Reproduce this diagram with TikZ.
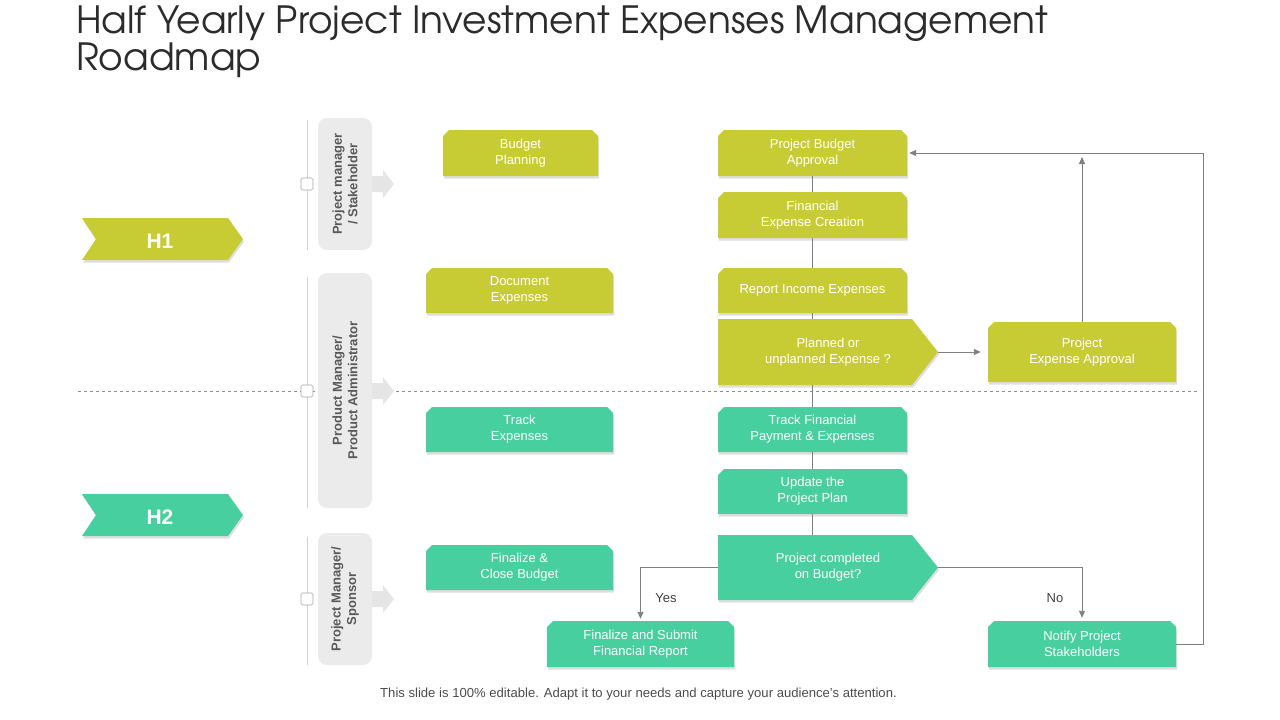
\documentclass[tikz,border=0pt]{standalone}
\usepackage{fontspec}
\setmainfont{Liberation Sans}
\newfontfamily\titlefont{TeX Gyre Adventor}
\usetikzlibrary{arrows.meta,shadows,calc}
\definecolor{hyg}{HTML}{C8CC34}
\definecolor{hteal}{HTML}{48CFA0}
\definecolor{lanegray}{HTML}{EBEBEB}
\definecolor{lanetext}{HTML}{595959}
\definecolor{linegray}{HTML}{808080}
\definecolor{titlegray}{HTML}{2B2B2B}
\tikzset{
  boxtext/.style={inner sep=0pt, align=center, text=white, font=\fontsize{13}{16}\selectfont},
  boxshade/.style={drop shadow={shadow xshift=1pt, shadow yshift=-2.5pt, opacity=0.13, fill=black}},
  conn/.style={draw=linegray, line width=0.9pt},
  arr/.style={conn, -{Triangle[length=7pt,width=6pt]}},
  lane/.style={fill=lanegray, rounded corners=9pt, rotate=90, inner sep=0pt, minimum height=54pt, align=center, text=lanetext, font=\bfseries\fontsize{13}{15.5}\selectfont},
  lanearrow/.style={fill=black!10},
  laneline/.style={draw=black!18, line width=0.8pt},
  sq/.style={draw=black!35, fill=white, minimum size=12pt, rounded corners=1.5pt, inner sep=0pt, line width=0.6pt},
  hlabel/.style={text=white, font=\bfseries\fontsize{21}{24}\selectfont, inner sep=0pt},
  yn/.style={text=black!75, font=\fontsize{13}{15}\selectfont, inner sep=0pt},
}
\newcommand\chbox[7]{%
  \fill[#6, boxshade] (#2+6,#3) -- (#4-6,#3) -- (#4,#3+6) -- (#4,#5) -- (#2,#5) -- (#2,#3+6) -- cycle;
  \node[boxtext, minimum width={(#4-#2)*1pt}, minimum height={(#5-#3)*1pt}] (#1) at ({(#2+#4)/2},{(#3+#5)/2}) {#7};
}
\newcommand\pentbox[8]{%
  \fill[#7, boxshade] (#2,#3) -- (#4,#3) -- (#5,{(#3+#6)/2}) -- (#4,#6) -- (#2,#6) -- cycle;
  \node[boxtext, minimum width={(#5-#2)*1pt}, minimum height={(#6-#3)*1pt}] (#1) at ({(#2+#5)/2},{(#3+#6)/2}) {#8};
}
\begin{document}
\begin{tikzpicture}[x=1pt,y=-1pt]
\useasboundingbox (0,0) rectangle (1280,720);
% title
\node[anchor=base west, inner sep=0pt, text=titlegray, font=\titlefont\fontsize{37.5}{40}\selectfont] (title1) at (76,33) {Half Yearly Project Investment Expenses Management};
\node[anchor=base west, inner sep=0pt, text=titlegray, font=\titlefont\fontsize{37.5}{40}\selectfont] (title2) at (76,70.5) {Roadmap};
% footer
\node[text=black!70, font=\fontsize{13.1}{15}\selectfont, inner sep=0pt] (foot) at (638.5,694) {This slide is 100\% editable. Adapt it to your needs and capture your audience's attention.};

% H chevrons
\fill[hyg, boxshade] (82,218) -- (228,218) -- (243,239) -- (228,260) -- (82,260) -- (96,239) -- cycle;
\node[hlabel] (h1) at (160,241) {H1};
\fill[hteal, boxshade] (82,494) -- (228,494) -- (243,515) -- (228,536) -- (82,536) -- (96,515) -- cycle;
\node[hlabel] (h2) at (160,517) {H2};

% lanes
\draw[laneline] (307,120) -- (307,250);
\draw[laneline] (307,277) -- (307,508);
\draw[laneline] (307,537) -- (307,665);
\draw[draw=black!45, dashed, line width=0.8pt] (78,391) -- (1200,391);
\node[sq] (sq1) at (307,184) {};
\node[sq] (sq2) at (307,391) {};
\node[sq] (sq3) at (307,599) {};
\node[lane, minimum width=132pt] (lane1) at (345,184) {Project manager\\/ Stakeholder};
\node[lane, minimum width=235pt] (lane2) at (345,390.5) {Product Manager/\\Product Administrator};
\node[lane, minimum width=132pt] (lane3) at (345,599) {Project Manager/\\Sponsor};
\foreach \yy in {184,391,599}{
  \fill[lanearrow] (372,\yy-8) -- (383,\yy-8) -- (383,\yy-14) -- (394,\yy) -- (383,\yy+14) -- (383,\yy+8) -- (372,\yy+8) -- cycle;
}

% boxes
\chbox{bp}{443}{130}{598}{176}{hyg}{Budget\\Planning}
\chbox{pba}{718}{130}{907}{176}{hyg}{Project Budget\\Approval}
\chbox{fec}{718}{192}{907}{238}{hyg}{Financial\\Expense Creation}
\chbox{de}{426}{268}{613}{313}{hyg}{Document\\Expenses}
\chbox{rie}{718}{268}{907}{313}{hyg}{Report Income Expenses}
\pentbox{pl}{718}{319}{912}{938}{385}{hyg}{Planned or\\unplanned Expense ?}
\chbox{pea}{988}{322}{1176}{382}{hyg}{Project\\Expense Approval}
\chbox{te}{426}{407}{613}{452}{hteal}{Track\\Expenses}
\chbox{tfp}{718}{407}{907}{452}{hteal}{Track Financial\\Payment \& Expenses}
\chbox{upp}{718}{469}{907}{514}{hteal}{Update the\\Project Plan}
\chbox{fcb}{426}{545}{613}{590}{hteal}{Finalize \&\\Close Budget}
\pentbox{pc}{718}{535}{912}{938}{600}{hteal}{Project completed\\on Budget?}
\chbox{fsr}{547}{621}{734}{667}{hteal}{Finalize and Submit\\Financial Report}
\chbox{nps}{988}{621}{1176}{667}{hteal}{Notify Project\\Stakeholders}

% connectors
\draw[conn] (pba.south) -- (fec.north);
\draw[conn] (fec.south) -- (rie.north);
\draw[conn] (rie.south) -- (rie.south |- pl.north);
\draw[conn] (tfp.north |- pl.south) -- (tfp.north);
\draw[conn] (tfp.south) -- (upp.north);
\draw[conn] (upp.south) -- (upp.south |- pc.north);
\draw[arr, shorten >=7pt] (pl.east) -- (pea.west);
\coordinate (peatop) at (1082,157);
\draw[arr] (pea.north) -- (peatop);
\coordinate (rc) at (1203,153);
\draw[arr, shorten >=2pt] (nps.east) -| (rc) -- (pba.east);
\draw[arr, shorten >=2pt] (pc.west) -| (fsr.north);
\draw[arr, shorten >=3pt] (pc.east) -| (nps.north);
\node[yn] (yes) at (666,598) {Yes};
\node[yn] (no) at (1055,598) {No};
\end{tikzpicture}
\end{document}
